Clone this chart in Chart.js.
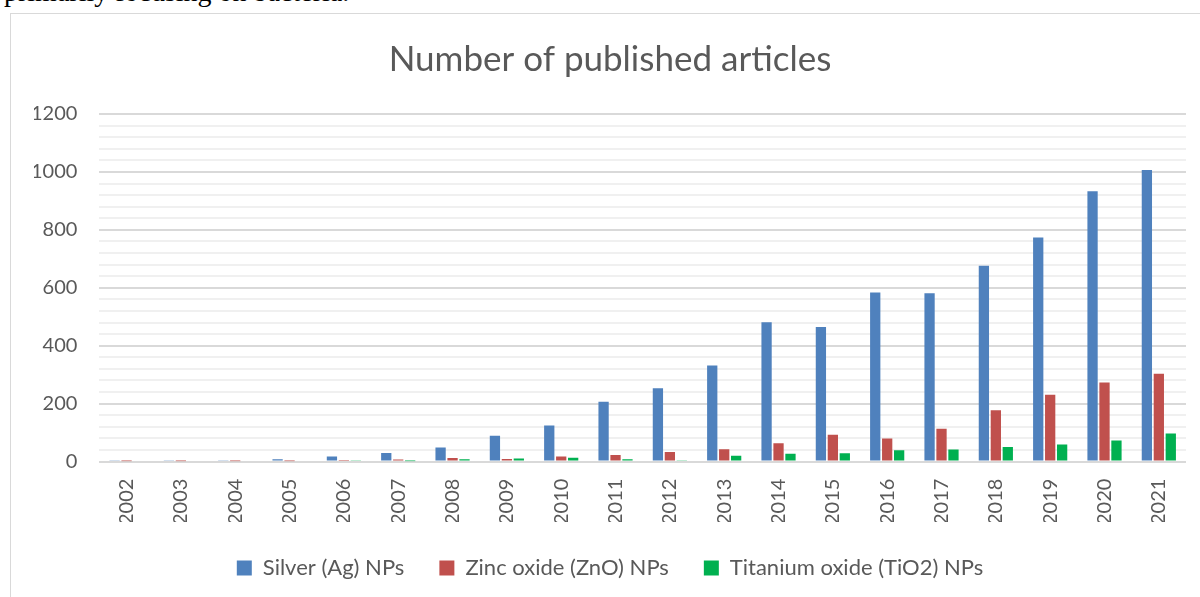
<!DOCTYPE html>
<html>
<head>
<meta charset="utf-8">
<script src="https://cdn.jsdelivr.net/npm/chart.js@4/dist/chart.umd.min.js"></script>
<style>
    html, body { margin: 0; padding: 0; background: #fff; overflow: hidden; }
    body { width: 1200px; height: 597px; position: relative; }
    .doc-text {
        position: absolute; left: 4px; top: -22px;
        font-family: "Liberation Serif", serif; font-size: 28px; line-height: 1; color: #000;
        white-space: nowrap;
    }
    .chart-box {
        position: absolute; left: 10px; top: 13px;
        width: 1200px; height: 600px;
        border: 1px solid #d9d9d9; box-sizing: border-box;
    }
    .chart-wrap { position: absolute; left: -7px; top: 0; width: 1197px; height: 584px; }
</style>
</head>
<body>
<div class="doc-text">primarily focusing on bacteria.</div>
<div class="chart-box">
    <div class="chart-wrap"><canvas id="chartCanvas"></canvas></div>
</div>
<script>
const years = ['2002', '2003', '2004', '2005', '2006', '2007', '2008', '2009', '2010', '2011',
               '2012', '2013', '2014', '2015', '2016', '2017', '2018', '2019', '2020', '2021'];
const silverNPs = [3, 5, 5, 8, 18, 30, 49, 89, 125, 207, 253, 332, 481, 465, 584, 581, 676, 774, 933, 1007];
const zincOxideNPs = [1, 1, 1, 1, 2, 7, 12, 9, 18, 23, 33, 43, 63, 93, 80, 113, 177, 231, 273, 303];
const titaniumOxideNPs = [0, 0, 0, 0, 3, 1, 8, 11, 13, 8, 3, 20, 27, 29, 39, 42, 50, 59, 73, 97];
const yTicks = [0, 200, 400, 600, 800, 1000, 1200];

const textColor = '#595959';
const font = 'Lato, "Open Sans", sans-serif';

const chartCanvas = document.getElementById('chartCanvas');

new Chart(chartCanvas, {
    type: 'bar',
    data: {
        labels: years,
        datasets: [
            { label: 'Silver (Ag) NPs', data: silverNPs, backgroundColor: '#4f81bd' },
            { label: 'Zinc oxide (ZnO) NPs', data: zincOxideNPs, backgroundColor: '#c0504d' },
            { label: 'Titanium oxide (TiO2) NPs', data: titaniumOxideNPs, backgroundColor: '#00b050' }
        ]
    },
    options: {
        responsive: true,
        maintainAspectRatio: false,
        animation: false,
        // extra left padding pushes the centred title/legend right; the y axis gives it back
        layout: { padding: { left: 30, right: 15, top: 8, bottom: 9 } },
        datasets: { bar: { categoryPercentage: 0.66, barPercentage: 0.86 } },
        plugins: {
            title: {
                display: true,
                text: 'Number of published articles',
                color: textColor,
                font: { family: font, size: 35, weight: 'normal' },
                padding: { top: 17, bottom: 33 }
            },
            legend: {
                position: 'bottom',
                labels: {
                    color: textColor,
                    font: { family: font, size: 22 },
                    boxWidth: 15,
                    boxHeight: 15,
                    padding: 35,
                    useBorderRadius: false
                }
            },
            tooltip: { enabled: false }
        },
        scales: {
            x: {
                grid: { display: false, drawTicks: false },
                border: { display: false },
                ticks: {
                    color: textColor,
                    font: { family: font, size: 20 },
                    minRotation: 90,
                    maxRotation: 90,
                    padding: 17
                },
                // let the legend sit closer under the year labels
                afterFit: axis => { axis.height -= 20; }
            },
            y: {
                min: 0,
                max: 1200,
                border: { display: false },
                grid: {
                    drawTicks: false,
                    lineWidth: 2,
                    color: ctx => (yTicks.includes(ctx.tick.value) ? '#d9d9d9' : '#f0f0f0')
                },
                ticks: {
                    stepSize: 40,
                    autoSkip: false,
                    color: textColor,
                    font: { family: font, size: 20 },
                    padding: 22,
                    callback: v => (yTicks.includes(v) ? v : '')
                },
                afterFit: axis => { axis.width -= 25; }
            }
        }
    }
});
</script>
</body>
</html>
